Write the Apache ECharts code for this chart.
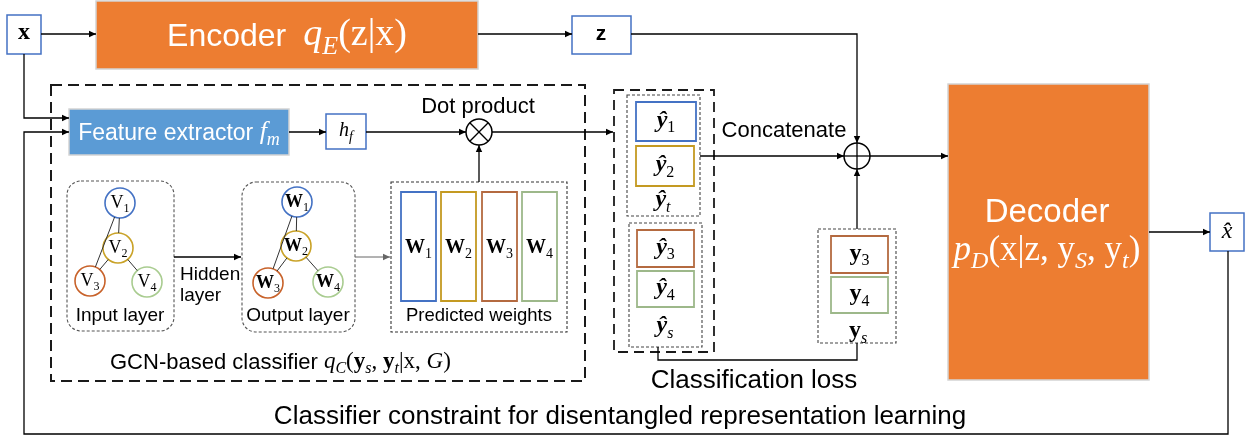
<!DOCTYPE html>
<html><head><meta charset="utf-8">
<script src="https://cdn.jsdelivr.net/npm/echarts@6/dist/echarts.min.js"></script>
<style>html,body{margin:0;padding:0;background:#fff}#main{width:1253px;height:438px}</style>
</head><body><div id="main"></div>
<script>
// ---------- content (labels only) ----------
const nodeIndices = ['1', '2', '3', '4'];
const inputSymbol = 'V';
const outputSymbol = 'W';
const graphEdges = [[0, 2], [0, 1], [1, 2], [1, 3]];
const targetIdx = ['1', '2'];
const sourceIdx = ['3', '4'];
const groundTruthIdx = ['3', '4'];
const captions = {
  encoder: 'Encoder', decoder: 'Decoder', feature: 'Feature extractor ',
  dot: 'Dot product', concat: 'Concatenate', inputLayer: 'Input layer',
  hidden: ['Hidden', 'layer'], outputLayer: 'Output layer', predicted: 'Predicted weights',
  gcn: 'GCN-based classifier ', loss: 'Classification loss',
  constraint: 'Classifier constraint for disentangled representation learning'
};

// ---------- styles ----------
const ORANGE = '#ED7D31', BLUEFILL = '#5B9BD5';
const nodeColors = ['#4472C4', '#C9A227', '#C8622A', '#A9CC90'];
const boxColors = ['#4472C4', '#C49A22', '#B46A40', '#9DB88A'];
const SANS = 'Liberation Sans', SERIF = 'Liberation Serif';

const G = [];
const cv = document.createElement('canvas').getContext('2d');
function fontStr(p) { return (p.i ? 'italic ' : '') + (p.b ? 'bold ' : '') + p.s + 'px "' + (p.f || SANS) + '"'; }
function textRun(x, baseline, pieces, align, color) {
  let total = 0;
  pieces.forEach(p => {
    if (p.gap != null) { p.w = p.gap; } else { cv.font = fontStr(p); p.w = cv.measureText(p.t).width; }
    total += p.w;
  });
  let cur = align === 'left' ? x : (align === 'right' ? x - total : x - total / 2);
  pieces.forEach(p => {
    if (p.gap == null) {
      G.push({ type: 'text', silent: true, z: 10, x: 0, y: 0,
        style: { text: p.t, x: cur, y: baseline + (p.dy || 0) - 0.34 * p.s, font: fontStr(p),
          fill: p.c || color || '#000', align: 'left', verticalAlign: 'middle' } });
    }
    cur += p.w;
  });
}
function sub(t, base, opt) { return Object.assign({ t: t, s: Math.round(base.s * 0.68), f: base.f, i: base.i, c: base.c, dy: base.s * 0.2 }, opt || {}); }
function poly(pts, o) {
  o = o || {};
  G.push({ type: 'polyline', silent: true, z: 5, shape: { points: pts },
    style: { stroke: o.c || '#000', lineWidth: o.w || 1.3, fill: null, lineDash: o.dash || null } });
}
function arrow(pts, o) {
  o = o || {};
  poly(pts, o);
  const [x1, y1] = pts[pts.length - 2], [x2, y2] = pts[pts.length - 1];
  const a = Math.atan2(y2 - y1, x2 - x1), L = 7, W = 3.2;
  const ca = Math.cos(a), sa = Math.sin(a);
  G.push({ type: 'polygon', silent: true, z: 6, shape: { points: [[x2, y2],
    [x2 - L * ca + W * sa, y2 - L * sa - W * ca], [x2 - L * ca - W * sa, y2 - L * sa + W * ca]] },
    style: { fill: o.c || '#000' } });
}
function rect(x, y, w, h, o) {
  o = o || {};
  G.push({ type: 'rect', silent: true, z: o.z || 3, shape: { x: x, y: y, width: w, height: h, r: o.r || 0 },
    style: { fill: o.fill || null, stroke: o.stroke || null, lineWidth: o.w || 1.5, lineDash: o.dash || null } });
}
function circle(cx, cy, r, o) {
  o = o || {};
  G.push({ type: 'circle', silent: true, z: 4, shape: { cx: cx, cy: cy, r: r },
    style: { fill: o.fill || '#fff', stroke: o.stroke || '#000', lineWidth: o.w || 1.5 } });
}

// ---------- top row ----------
rect(7, 15, 34, 39, { stroke: '#4472C4', fill: '#fff' });
textRun(24, 41, [{ t: 'x', f: SERIF, s: 24, b: true }], 'center');
arrow([[41, 34], [96, 34]]);
rect(96, 1, 382, 68, { fill: ORANGE, stroke: '#D4D4D4', w: 1.5 });
(function () {
  const m = { f: SERIF, s: 38, i: true, c: '#fff' };
  textRun(287, 48, [{ t: captions.encoder, s: 32, c: '#fff' }, { gap: 17 }, { t: 'q', f: SERIF, s: 38, i: true, c: '#fff' },
    sub('E', m), { t: '(z|x)', f: SERIF, s: 38, c: '#fff' }], 'center');
})();
arrow([[478, 34], [572, 34]]);
rect(572, 16, 59, 38, { stroke: '#4472C4', fill: '#fff' });
textRun(601, 41, [{ t: 'z', s: 21, b: true }], 'center');
arrow([[631, 34], [857, 34], [857, 143]]);

// ---------- x feeds & loop ----------
arrow([[24, 54], [24, 118], [69, 118]]);
arrow([[1228, 251], [1228, 434], [24, 434], [24, 132], [69, 132]]);

// ---------- GCN classifier block ----------
rect(51, 85, 534, 296, { stroke: '#1a1a1a', w: 2, dash: [11, 6] });
rect(69, 109, 220, 46, { fill: BLUEFILL, stroke: '#D4D4D4', w: 1.5 });
(function () {
  const m = { f: SERIF, s: 26, i: true, c: '#fff' };
  textRun(179, 141, [{ t: captions.feature, s: 23, c: '#fff' }, { t: 'f', f: SERIF, s: 26, i: true, c: '#fff' }, sub('m', m)], 'center');
})();
arrow([[289, 132], [326, 132]]);
rect(326, 114, 40, 35, { stroke: '#4472C4', fill: '#fff' });
(function () {
  const m = { f: SERIF, s: 20, i: true };
  textRun(346, 138, [{ t: 'h', f: SERIF, s: 20, i: true }, sub('f', m)], 'center');
})();
arrow([[366, 132], [466, 132]]);
// dot product
circle(479, 132, 13);
(function () { const d = 13 * Math.SQRT1_2;
  poly([[479 - d, 132 - d], [479 + d, 132 + d]], { w: 1.3 }); poly([[479 - d, 132 + d], [479 + d, 132 - d]], { w: 1.3 }); })();
textRun(478, 114, [{ t: captions.dot, s: 22 }], 'center');
arrow([[492, 132], [613, 132]]);
arrow([[479, 182], [479, 145]]);

// graph layers
const inPos = [[120, 203], [118, 248], [90, 281], [147, 282]];
const outPos = [[297, 202], [296, 246], [268, 283], [328, 282]];
function drawGraph(pos, symbol, bold) {
  graphEdges.forEach(([a, b]) => {
    const [x1, y1] = pos[a], [x2, y2] = pos[b];
    const d = Math.hypot(x2 - x1, y2 - y1), r = 15;
    const ux = (x2 - x1) / d, uy = (y2 - y1) / d;
    poly([[x1 + ux * r, y1 + uy * r], [x2 - ux * r, y2 - uy * r]], { w: 1, c: '#333' });
  });
  pos.forEach(([x, y], i) => {
    circle(x, y, 15, { stroke: nodeColors[i], w: 1.6 });
    const m = { f: SERIF, s: 18, b: bold };
    textRun(x, y + 6, [{ t: symbol, f: SERIF, s: 18, b: bold }, sub(nodeIndices[i], m, { b: false })], 'center');
  });
}
rect(67, 181, 107, 150, { stroke: '#555', w: 1.1, dash: [3, 2], r: 14 });
drawGraph(inPos, inputSymbol, false);
textRun(120, 322, [{ t: captions.inputLayer, s: 19 }], 'center');
arrow([[174, 257], [241, 257]]);
textRun(180, 281, [{ t: captions.hidden[0], s: 19 }], 'left');
textRun(180, 302, [{ t: captions.hidden[1], s: 19 }], 'left');
rect(242, 182, 113, 150, { stroke: '#555', w: 1.1, dash: [3, 2], r: 14 });
drawGraph(outPos, outputSymbol, true);
textRun(298, 322, [{ t: captions.outputLayer, s: 19 }], 'center');
arrow([[355, 257], [390, 257]], { c: '#666', w: 1 });
// predicted weights
rect(391, 182, 176, 150, { stroke: '#333', w: 1.1, dash: [3, 2] });
const barX = [401, 441, 482, 522];
barX.forEach((x, i) => {
  rect(x, 192, 35, 109, { stroke: boxColors[i], w: 1.8, fill: '#fff' });
  const m = { f: SERIF, s: 20, b: true };
  textRun(x + 17.5, 255, [{ t: outputSymbol, f: SERIF, s: 20, b: true }, sub(nodeIndices[i], m, { b: false })], 'center');
});
textRun(479, 322, [{ t: captions.predicted, s: 18.5 }], 'center');
(function () {
  const m = { f: SERIF, s: 23, i: true };
  textRun(110, 370, [{ t: captions.gcn, s: 22 }, { t: 'q', f: SERIF, s: 23, i: true }, sub('C', m),
    { t: '(', f: SERIF, s: 23 }, { t: 'y', f: SERIF, s: 23, b: true }, sub('s', m), { t: ', ', f: SERIF, s: 23 },
    { t: 'y', f: SERIF, s: 23, b: true }, sub('t', m), { t: '|x, ', f: SERIF, s: 23 }, { t: 'G', f: SERIF, s: 23, i: true }, { t: ')', f: SERIF, s: 23 }], 'left');
})();

// ---------- predicted labels ----------
rect(614, 90, 100, 262, { stroke: '#1a1a1a', w: 1.8, dash: [10, 6] });
rect(627, 95, 73, 121, { stroke: '#444', w: 1.1, dash: [3, 2] });
rect(629, 223, 73, 124, { stroke: '#444', w: 1.1, dash: [3, 2] });
function yBox(x, y, w, h, colorIdx, hat, idx, sz) {
  rect(x, y, w, h, { stroke: boxColors[colorIdx], w: 1.8, fill: '#fff' });
  const m = { f: SERIF, s: sz };
  textRun(x + w / 2, y + h / 2 + 7, [{ t: hat ? 'ŷ' : 'y', f: SERIF, s: sz, b: true, i: hat }, sub(idx, m)], 'center');
}
yBox(636, 102, 60, 39, 0, true, targetIdx[0], 24);
yBox(636, 146, 58, 40, 1, true, targetIdx[1], 24);
yBox(637, 230, 57, 37, 2, true, sourceIdx[0], 24);
yBox(637, 271, 57, 36, 3, true, sourceIdx[1], 24);
(function () {
  const m = { f: SERIF, s: 24, i: true };
  textRun(663, 208, [{ t: 'ŷ', f: SERIF, s: 24, b: true, i: true }, sub('t', m)], 'center');
  textRun(665, 334, [{ t: 'ŷ', f: SERIF, s: 24, b: true, i: true }, sub('s', m)], 'center');
})();
arrow([[700, 156], [844, 156]]);
textRun(784, 138, [{ t: captions.concat, s: 22 }], 'center');

// concat node
circle(857, 156, 13);
poly([[844, 156], [870, 156]], { w: 1.3 }); poly([[857, 143], [857, 169]], { w: 1.3 });
arrow([[870, 156], [948, 156]]);

// ground-truth source labels
rect(818, 229, 78, 114, { stroke: '#444', w: 1.1, dash: [3, 2] });
yBox(831, 236, 57, 37, 2, false, groundTruthIdx[0], 24);
yBox(831, 277, 57, 36, 3, false, groundTruthIdx[1], 24);
(function () {
  const m = { f: SERIF, s: 24, i: true };
  textRun(858, 339, [{ t: 'y', f: SERIF, s: 24, b: true }, sub('s', m)], 'center');
})();
arrow([[857, 229], [857, 169]]);
poly([[658, 347], [658, 360], [857, 360], [857, 343]], { w: 1.3 });
textRun(754, 390, [{ t: captions.loss, s: 26 }], 'center');

// ---------- decoder ----------
rect(948, 84, 201, 296, { fill: ORANGE, stroke: '#D4D4D4', w: 1.5 });
textRun(1047, 224, [{ t: captions.decoder, s: 33, c: '#fff' }], 'center');
(function () {
  const m = { f: SERIF, s: 35, i: true, c: '#fff' };
  const u = { f: SERIF, s: 35, c: '#fff' };
  textRun(1047, 263, [{ t: 'p', f: SERIF, s: 35, i: true, c: '#fff' }, sub('D', m),
    Object.assign({ t: '(x|z, ' }, u), Object.assign({ t: 'y' }, u), sub('S', m), Object.assign({ t: ', ' }, u),
    Object.assign({ t: 'y' }, u), sub('t', m), Object.assign({ t: ')' }, u)], 'center');
})();
arrow([[1149, 232], [1210, 232]]);
rect(1210, 213, 34, 38, { stroke: '#4472C4', fill: '#fff' });
textRun(1227, 240, [{ t: 'x̂', f: SERIF, s: 24, i: true }], 'center');

// ---------- bottom caption ----------
textRun(620, 426, [{ t: captions.constraint, s: 26 }], 'center');

const chart = echarts.init(document.getElementById('main'), null, { renderer: 'canvas' });
chart.setOption({ backgroundColor: '#fff', animation: false, graphic: { elements: G } });
</script></body></html>
